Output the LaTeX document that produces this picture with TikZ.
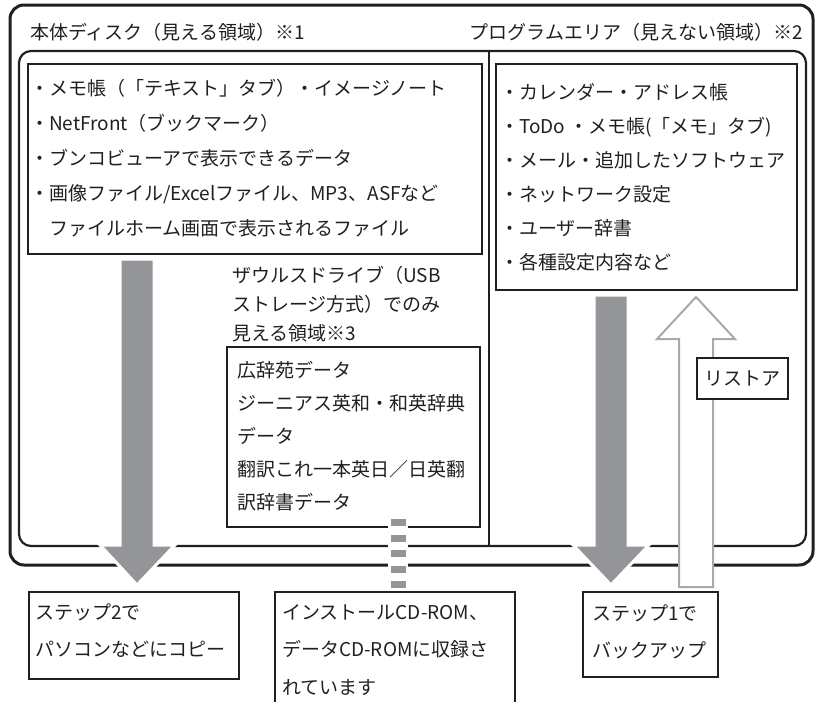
\documentclass[tikz,border=0pt]{standalone}
\usepackage{fontspec}
\setmainfont{Noto Sans CJK JP}
\usetikzlibrary{positioning,calc}
\definecolor{inkblack}{HTML}{231F20}
\definecolor{arrgray}{HTML}{939598}
\definecolor{hollowgray}{HTML}{A7A9AC}

\begin{document}
\begin{tikzpicture}[
  x=1pt, y=-1pt,
  font=\fontsize{19}{23}\selectfont,
  txt/.style={anchor=base west, inner sep=0pt, text=inkblack},
  outer frame/.style={draw=inkblack, rounded corners=14pt, line width=3pt},
  inner frame/.style={draw=inkblack, rounded corners=12pt, line width=2.2pt},
  item box/.style={draw=inkblack, line width=1.8pt},
  note box/.style={draw=inkblack, line width=1.5pt},
  gray arrow/.style={fill=arrgray, draw=white, line width=3pt, line join=miter},
  hollow arrow/.style={fill=white, draw=hollowgray, line width=2pt}
]
\useasboundingbox (0,0) rectangle (816,702);
% ---------- frames ----------
\draw[outer frame] (10,5) rectangle (813,565);
\draw[inner frame] (19,51) rectangle (806,546);
\draw[inkblack, line width=2pt] (489,51) -- (489,546);
\node[txt] (disktitle) at (30,39) {本体ディスク（見える領域）※1};
\node[txt, anchor=base east] (progtitle) at (803,39) {プログラムエリア（見えない領域）※2};

% ---------- visible area ----------
\draw[item box] (28,64) rectangle (482,254);
\node[txt] (d1) at (30,95) {・メモ帳（「テキスト」タブ）・イメージノート};
\node[txt] (d2) at (30,130) {・NetFront（ブックマーク）};
\node[txt] (d3) at (30,165) {・ブンコビューアで表示できるデータ};
\node[txt] (d4) at (30,200) {・画像ファイル/Excelファイル、MP3、ASFなど};
\node[txt] (d5) at (30,235) {　ファイルホーム画面で表示されるファイル};

% ---------- program area ----------
\draw[item box] (496,64) rectangle (797,290);
\node[txt] (p1) at (500,99) {・カレンダー・アドレス帳};
\node[txt] (p2) at (500,133) {・ToDo ・メモ帳(「メモ」タブ)};
\node[txt] (p3) at (500,167) {・メール・追加したソフトウェア};
\node[txt] (p4) at (500,201) {・ネットワーク設定};
\node[txt] (p5) at (500,235) {・ユーザー辞書};
\node[txt] (p6) at (500,269) {・各種設定内容など};

% ---------- USB storage area ----------
\node[txt] (z1) at (232,282) {ザウルスドライブ（USB};
\node[txt] (z2) at (232,311) {ストレージ方式）でのみ};
\node[txt] (z3) at (232,340) {見える領域※3};
\draw[item box] (227,347) rectangle (480,527);
\node[txt] (k1) at (237,377) {広辞苑データ};
\node[txt] (k2) at (237,410) {ジーニアス英和・和英辞典};
\node[txt] (k3) at (237,443) {データ};
\node[txt] (k4) at (237,476) {翻訳これ一本英日／日英翻};
\node[txt] (k5) at (237,509) {訳辞書データ};

% ---------- notes below ----------
\draw[note box] (29,592) rectangle (239,679);
\node[txt] (s2a) at (35,619) {ステップ2で};
\node[txt] (s2b) at (35,656) {パソコンなどにコピー};
\draw[note box] (275,702) -- (275,592) -- (515,592) -- (515,702);
\node[txt] (cd1) at (282,619) {インストールCD-ROM、};
\node[txt] (cd2) at (282,656) {データCD-ROMに収録さ};
\node[txt] (cd3) at (282,694) {れています};
\draw[note box] (583,592) rectangle (718,677);
\node[txt] (s1a) at (592,620) {ステップ1で};
\node[txt] (s1b) at (592,657) {バックアップ};

% ---------- arrows ----------
\draw[gray arrow] (120,259) -- (154,259) -- (154,545) -- (175,545) -- (137,585) -- (100,545) -- (120,545) -- cycle;
\draw[gray arrow] (594,295) -- (628,295) -- (628,545) -- (649,545) -- (611,585) -- (573,545) -- (594,545) -- cycle;
\draw[hollow arrow] (679,587) -- (679,339) -- (657,339) -- (696,297) -- (735,339) -- (713,339) -- (713,587) -- cycle;
\fill[white] (388,518) rectangle (408,590);
\draw[arrgray, line width=15pt, dash pattern=on 7pt off 8.5pt] (398,519) -- (398,589);
\node[draw=inkblack, fill=white, line width=1.5pt, minimum width=91pt, minimum height=41pt, inner sep=0pt, text=inkblack] (restore) at (742.5,378.5) {リストア};
\end{tikzpicture}
\end{document}
